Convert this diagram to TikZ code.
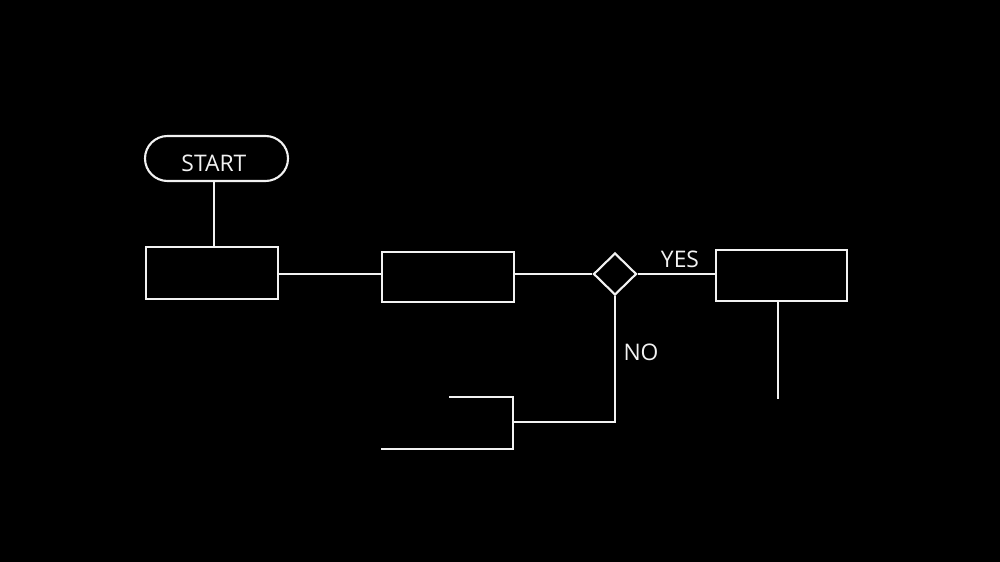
\documentclass[tikz,border=0pt]{standalone}
\usepackage{fontspec}
\setmainfont{Open Sans}
\usepackage{tikz}
\usetikzlibrary{positioning,shapes,arrows,calc}
\definecolor{chalk}{HTML}{F2F2F2}
\definecolor{board}{HTML}{000000}

\begin{document}
\begin{tikzpicture}[
    line width=1.2pt, chalk,
    every node/.style={font=\fontsize{13}{15}\selectfont, text=chalk},
    procbox/.style={draw=chalk, rectangle, inner sep=0pt},
    decbox/.style={draw=chalk, diamond, inner sep=0pt, minimum width=0.86cm, minimum height=0.84cm}
  ]
  \fill[board] (0,0) rectangle (20,-11.24);
  \useasboundingbox (0,0) rectangle (20,-11.24);

  \node[draw=chalk, rounded corners=0.45cm, minimum width=2.86cm, minimum height=0.9cm] (start) at (4.33,-3.17) {\hspace*{-3pt}\raisebox{-7.4pt}[0pt][0pt]{START}};
  \node[procbox, minimum width=2.64cm, minimum height=1.04cm] (box1) at (4.24,-5.46) {};
  \node[procbox, minimum width=2.64cm, minimum height=1.0cm] (box2) at (8.96,-5.54) {};
  \node[decbox] (dec) at (12.3,-5.48) {};
  \node[procbox, minimum width=2.62cm, minimum height=1.02cm] (box3) at (15.63,-5.51) {};

  \node (yes) at (13.6,-5.18) {YES};
  \node (no) at (12.82,-7.04) {NO};

  \coordinate (turn) at (12.3,-8.44);
  \coordinate (join) at (10.26,-8.44);
  \coordinate (tail) at (15.56,-7.98);

  \draw (start.south -| 4.28,0) -- (4.28,0 |- box1.north);
  \draw (box1.east |- dec.west) -- (box2.west |- dec.west);
  \draw (box2.east |- dec.west) -- (dec.west);
  \draw (dec.east) -- (dec.east -| box3.west);
  \draw (box3.south -| tail) -- (tail);
  \draw (dec.south) -- (turn) -- (join);
  % open bracket below
  \draw (8.98,-7.94) -- (10.26,-7.94) -- (10.26,-8.98) -- (7.62,-8.98);
\end{tikzpicture}
\end{document}
